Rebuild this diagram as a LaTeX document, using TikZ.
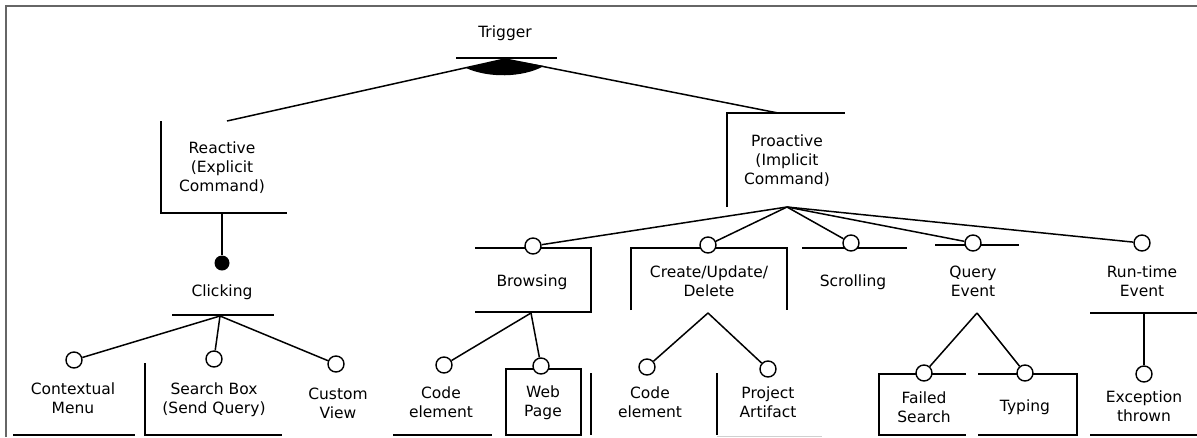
\documentclass[tikz,border=0pt]{standalone}
\usepackage{fontspec}
\setmainfont{DejaVu Sans}
\usepackage{tikz}
\usetikzlibrary{positioning}
\definecolor{FrameGray}{HTML}{666666}
\definecolor{FaintGray}{HTML}{D0D0D0}
\tikzset{
  featnode/.style={inner sep=0pt, align=center, font=\fontsize{15.5}{19}\selectfont},
  optnode/.style={circle, draw, fill=white, line width=1.4pt, minimum size=16pt, inner sep=0pt},
  mandnode/.style={circle, fill=black, minimum size=15pt, inner sep=0pt},
  edgestd/.style={line width=1.5pt},
  framestd/.style={draw=FrameGray, line width=1.3pt}
}

\begin{document}
\begin{tikzpicture}[x=1pt, y=-1pt]
  \useasboundingbox (0,0) rectangle (1197,437);
  \draw[framestd] (6,437) -- (6,6) -- (1197,6);

  \node[featnode] (trigger) at (505,33) {Trigger};
  \draw[edgestd] (456,58) -- (557,58);
  \coordinate (trigger-b) at (505,59);

  \node[featnode] (reactive) at (222,168) {Reactive\\(Explicit\\Command)};
  \draw[edgestd] (161,121) -- (161,213) -- (287,213);
  \coordinate (reactive-t) at (227,121);
  \coordinate (reactive-b) at (222,213);

  \node[featnode] (proactive) at (787,161) {Proactive\\(Implicit\\Command)};
  \draw[edgestd] (727,207) -- (727,113) -- (845,113);
  \coordinate (proactive-t) at (778,113);
  \coordinate (proactive-b) at (787,207);

  \draw[edgestd] (trigger-b) -- (reactive-t);
  \draw[edgestd] (trigger-b) -- (proactive-t);
  \fill (trigger-b) -- (466,68) .. controls (488,78) and (522,78) .. (544,66) -- cycle;

  % reactive side
  \node[mandnode] (clickdot) at (222,263) {};
  \draw[edgestd] (reactive-b) -- (clickdot);
  \node[featnode] (clicking) at (222,292) {Clicking};
  \draw[edgestd] (172,315) -- (274,315);
  \coordinate (clicking-b) at (220,316);

  \node[optnode] (ctxo)    at (74,360)  {};
  \node[optnode] (searcho) at (214,359) {};
  \node[optnode] (customo) at (336,364) {};
  \foreach \c in {ctxo, searcho, customo}
    \draw[edgestd] (clicking-b) -- (\c);

  \node[featnode] (ctx)    at (73,398)  {Contextual\\Menu};
  \node[featnode] (search) at (214,400) {Search Box\\(Send Query)};
  \node[featnode] (custom) at (338,403) {Custom\\View};
  \draw[edgestd] (13,435) -- (135,435);
  \draw[edgestd] (145,363) -- (145,435) -- (282,435);

  % proactive side
  \draw[edgestd] (475,248) -- (591,248) -- (591,312) -- (475,312);
  \draw[edgestd] (631,310) -- (631,248) -- (787,248) -- (787,310);
  \draw[edgestd] (802,248) -- (907,248);
  \draw[edgestd] (935,245) -- (1019,245);
  \draw[edgestd] (1090,313) -- (1197,313);

  \node[optnode] (browso)  at (533,246)  {};
  \node[optnode] (createo) at (708,245)  {};
  \node[optnode] (scrollo) at (851,243)  {};
  \node[optnode] (queryo)  at (973,243)  {};
  \node[optnode] (runo)    at (1142,243) {};
  \foreach \c in {browso, createo, scrollo, queryo, runo}
    \draw[edgestd] (proactive-b) -- (\c);

  \node[featnode] (browsing) at (532,282)  {Browsing};
  \node[featnode] (create)   at (709,281)  {Create/Update/\\Delete};
  \node[featnode] (scroll)   at (853,282)  {Scrolling};
  \node[featnode] (query)    at (973,281)  {Query\\Event};
  \node[featnode] (runtime)  at (1142,281) {Run-time\\Event};
  \coordinate (browsing-b) at (531,313);
  \coordinate (create-b)   at (708,313);
  \coordinate (query-b)    at (977,313);
  \coordinate (runtime-b)  at (1144,313);

  % leaves
  \draw[edgestd] (393,435) -- (492,435);
  \draw[edgestd] (506,369) rectangle (581,435);
  \draw[edgestd] (591,373) -- (591,435);
  \draw[edgestd] (717,373) -- (717,435);
  \draw[FaintGray, line width=1pt] (717,436) -- (822,436);
  \draw[edgestd] (966,374) -- (879,374) -- (879,435) -- (966,435);
  \draw[edgestd] (978,374) -- (1077,374) -- (1077,435) -- (978,435);
  \draw[edgestd] (1090,435) -- (1197,435);

  \node[optnode] (codeo)  at (444,365)  {};
  \node[optnode] (webo)   at (541,366)  {};
  \node[optnode] (code2o) at (647,367)  {};
  \node[optnode] (projo)  at (768,369)  {};
  \node[optnode] (failo)  at (924,373)  {};
  \node[optnode] (typo)   at (1025,373) {};
  \node[optnode] (exco)   at (1144,374) {};
  \draw[edgestd] (browsing-b) -- (codeo);
  \draw[edgestd] (browsing-b) -- (webo);
  \draw[edgestd] (create-b) -- (code2o);
  \draw[edgestd] (create-b) -- (projo);
  \draw[edgestd] (query-b) -- (failo);
  \draw[edgestd] (query-b) -- (typo);
  \draw[edgestd] (runtime-b) -- (exco);

  \node[featnode] (code)    at (441,402)  {Code\\element};
  \node[featnode] (web)     at (543,403)  {Web\\Page};
  \node[featnode] (code2)   at (650,402)  {Code\\element};
  \node[featnode] (project) at (768,402)  {Project\\Artifact};
  \node[featnode] (failed)  at (924,407)  {Failed\\Search};
  \node[featnode] (typing)  at (1025,407) {Typing};
  \node[featnode] (except)  at (1144,406) {Exception\\thrown};
\end{tikzpicture}
\end{document}
